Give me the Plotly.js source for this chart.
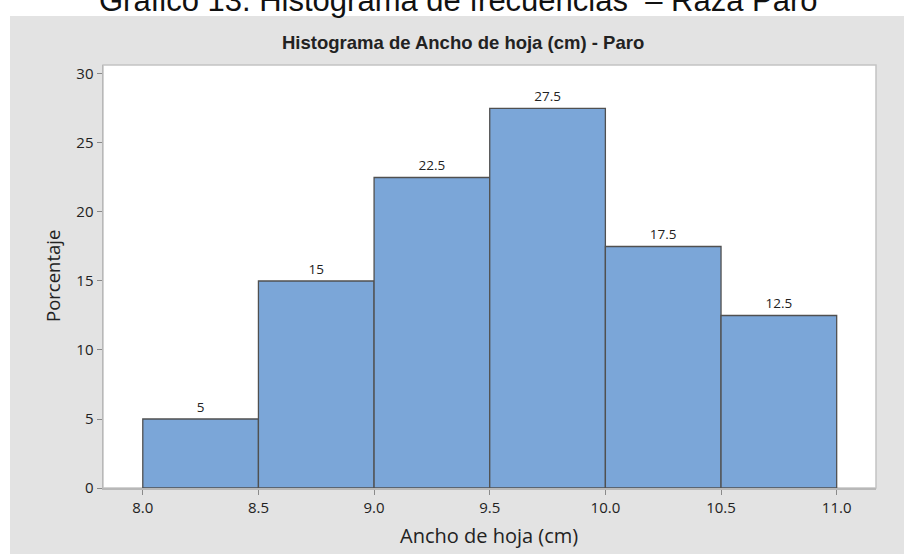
<!DOCTYPE html>
<html>
<head>
<meta charset="utf-8">
<script src="https://cdn.plot.ly/plotly-3.0.1.min.js"></script>
<style>html,body{margin:0;padding:0;background:#fff;}#chart{width:904px;height:554px;}</style>
</head>
<body>
<div id="chart"></div>
<script>
// Data
const binStarts = [8.0, 8.5, 9.0, 9.5, 10.0, 10.5];
const binWidth = 0.5;
const percentages = [5, 15, 22.5, 27.5, 17.5, 12.5];
const barLabels = ['5', '15', '22.5', '27.5', '17.5', '12.5'];
const xTickValues = [8.0, 8.5, 9.0, 9.5, 10.0, 10.5, 11.0];
const xTickLabels = ['8.0', '8.5', '9.0', '9.5', '10.0', '10.5', '11.0'];
const yTickValues = [0, 5, 10, 15, 20, 25, 30];

const outerTitle = 'Gráfico 13. Histograma de frecuencias  – Raza Paro';
const chartTitle = 'Histograma de Ancho de hoja (cm) - Paro';
const xTitle = 'Ancho de hoja (cm)';
const yTitle = 'Porcentaje';

const W = 904, H = 554;
const M = {l: 103, r: 28, t: 65, b: 66};
const pw = W - M.l - M.r, ph = H - M.t - M.b;
const px = v => (v - M.l) / pw;          // pixel x -> paper
const py = v => (H - M.b - v) / ph;      // pixel y -> paper

const uiFont = '"Open Sans", "Noto Sans", sans-serif';

const trace = {
  type: 'bar',
  x: binStarts.map(s => s + binWidth / 2),
  y: percentages,
  width: binStarts.map(() => binWidth),
  text: barLabels,
  textposition: 'outside',
  cliponaxis: false,
  textfont: {family: uiFont, size: 13.5, color: '#222'},
  marker: {color: '#7ba6d8', line: {color: '#505050', width: 1.3}},
  hoverinfo: 'x+y'
};

const layout = {
  width: W, height: H,
  margin: M,
  paper_bgcolor: '#ffffff',
  plot_bgcolor: 'rgba(0,0,0,0)',
  showlegend: false,
  bargap: 0,
  xaxis: {
    range: [7.828, 11.17],
    tickmode: 'array', tickvals: xTickValues, ticktext: xTickLabels,
    ticks: 'outside', ticklen: 5, tickcolor: '#8a8a8a', tickwidth: 1,
    showgrid: false, zeroline: false,
    showline: true, linecolor: '#b8b8b8', linewidth: 1.5,
    tickfont: {family: uiFont, size: 15, color: '#222'},
    fixedrange: true
  },
  yaxis: {
    range: [0, 30.65],
    tickmode: 'array', tickvals: yTickValues,
    ticks: 'outside', ticklen: 5, tickcolor: '#8a8a8a', tickwidth: 1,
    showgrid: false, zeroline: false,
    showline: true, linecolor: '#b8b8b8', linewidth: 1.5,
    tickfont: {family: uiFont, size: 15, color: '#222'},
    fixedrange: true
  },
  shapes: [
    {type: 'rect', xref: 'paper', yref: 'paper', layer: 'below',
     x0: px(10), x1: px(910), y0: py(560), y1: py(16),
     fillcolor: '#e3e3e3', line: {width: 0}},
    {type: 'rect', xref: 'paper', yref: 'paper', layer: 'below',
     x0: 0, x1: 1, y0: 0, y1: 1,
     fillcolor: '#ffffff', line: {color: '#c4c4c4', width: 1.5}}
  ],
  annotations: [
    {xref: 'paper', yref: 'paper', x: px(463), y: py(42), xanchor: 'center', yanchor: 'middle',
     showarrow: false, text: '<b>' + chartTitle + '</b>',
     font: {family: '"Liberation Sans", Arial, sans-serif', size: 18.5, color: '#222'}},
    {xref: 'paper', yref: 'paper', x: px(458), y: py(20), xanchor: 'center', yanchor: 'bottom',
     showarrow: false, text: outerTitle,
     font: {family: '"Liberation Sans", Arial, sans-serif', size: 31, color: '#111'}},
    {xref: 'paper', yref: 'paper', x: px(489), y: py(535), xanchor: 'center', yanchor: 'middle',
     showarrow: false, text: xTitle,
     font: {family: uiFont, size: 20, color: '#222'}},
    {xref: 'paper', yref: 'paper', x: px(52), y: py(276), xanchor: 'center', yanchor: 'middle',
     showarrow: false, text: yTitle, textangle: -90,
     font: {family: uiFont, size: 18.5, color: '#222'}}
  ]
};

Plotly.newPlot('chart', [trace], layout, {displayModeBar: false, staticPlot: true});
</script>
</body>
</html>
